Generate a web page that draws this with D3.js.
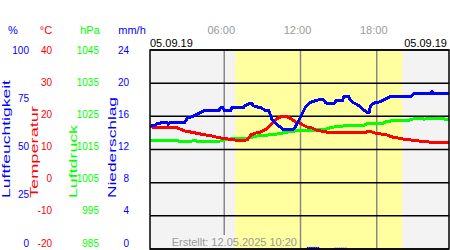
<!DOCTYPE html>
<html>
<head>
<meta charset="utf-8">
<script src="https://cdn.jsdelivr.net/npm/d3@7"></script>
<style>
body { margin: 0; background: #fff; }
text { font-family: "Liberation Sans", Arial, sans-serif; }
</style>
</head>
<body>
<div id="chart"></div>
<script>
const width = 450, height = 250;
const plot = {left: 150, right: 449, top: 50, bottom: 249};

// data
const dateLabel = "05.09.19";
const createdLabel = "Erstellt: 12.05.2025 10:20";
const timeTicks = [6, 12, 18];
const sunrise = 6.85, sunset = 20.02;

const humidityTicks = [0, 25, 50, 75, 100];
const tempTicks = [-20, -10, 0, 10, 20, 30, 40];
const pressureTicks = [985, 995, 1005, 1015, 1025, 1035, 1045];
const rainTicks = [0, 4, 8, 12, 16, 20, 24];

// [hour, %]
const humidity = [[0.2, 62.3], [0.6, 62.3], [0.8, 63.3], [1.0, 63.3], [1.2, 63.8], [1.5, 63.8], [1.6, 62.8],
  [1.75, 63.8], [2.9, 63.8], [3.1, 65.8], [3.6, 66.8], [3.9, 67.8], [4.2, 68.8], [4.5, 69.8], [5.6, 69.8],
  [5.7, 70.9], [5.9, 70.9], [6.0, 69.8], [6.5, 69.8], [6.6, 70.9], [7.5, 70.9], [7.6, 71.9], [7.9, 72.9],
  [8.2, 72.9], [8.3, 71.9], [8.6, 71.4], [8.9, 70.9], [9.2, 69.8], [9.5, 69.8], [9.6, 67.8], [9.75, 65.3],
  [10.0, 63.3], [10.3, 61.8], [10.7, 59.8], [11.4, 59.8], [11.6, 61.3], [11.8, 63.8], [12.0, 66.3],
  [12.2, 68.8], [12.4, 71.4], [12.7, 73.4], [13.1, 74.4], [13.4, 74.9], [13.8, 74.9], [14.0, 73.4],
  [14.3, 72.9], [14.6, 72.9], [14.8, 74.4], [15.3, 74.4], [15.4, 76.4], [15.8, 76.4], [15.9, 74.9],
  [16.2, 73.4], [16.5, 72.4], [16.8, 70.9], [17.0, 69.8], [17.2, 68.8], [17.4, 68.8], [17.5, 71.9],
  [17.8, 73.4], [18.3, 74.0], [18.7, 75.5], [19.1, 76.6], [20.7, 76.6], [20.9, 77.9], [22.2, 77.9],
  [22.35, 78.9], [22.5, 77.9], [23.8, 77.9]];

// [hour, °C]
const temperature = [[0.0, 17.4], [0.3, 16.8], [0.7, 16.5], [2.3, 16.5], [2.5, 16.2], [2.9, 15.6], [3.3, 15.3],
  [3.7, 15.0], [4.1, 14.7], [4.5, 14.4], [5.0, 14.1], [5.3, 13.8], [5.7, 13.5], [6.2, 13.2], [6.8, 12.9],
  [7.3, 12.6], [7.8, 12.9], [8.1, 14.4], [8.5, 15.0], [8.9, 15.3], [9.2, 15.9], [9.5, 16.8], [9.8, 18.0],
  [10.1, 19.2], [10.4, 19.8], [10.7, 20.1], [11.0, 19.8], [11.3, 19.2], [11.6, 18.3], [11.9, 18.0],
  [12.2, 17.4], [12.5, 16.8], [12.9, 16.5], [13.2, 15.9], [13.6, 15.6], [14.0, 15.3], [14.5, 15.0],
  [17.0, 15.0], [17.2, 15.3], [17.6, 15.3], [17.8, 15.0], [18.3, 14.7], [18.8, 14.4], [19.2, 13.8],
  [19.6, 13.5], [20.0, 13.2], [20.6, 12.9], [21.2, 12.6], [22.0, 12.3], [22.8, 12.0], [23.8, 12.0]];

// [hour, hPa]
const pressure = [[0.0, 1017.6], [2.4, 1017.6], [2.5, 1017.3], [3.3, 1017.3], [3.5, 1017.6], [3.8, 1017.6],
  [3.9, 1017.3], [5.2, 1017.3], [5.5, 1017.4], [5.8, 1017.7], [6.3, 1018.1], [6.9, 1018.4], [7.9, 1018.4],
  [8.1, 1018.6], [8.6, 1019.1], [9.5, 1019.4], [10.2, 1019.7], [10.9, 1020.2], [11.6, 1020.6],
  [13.0, 1020.6], [13.2, 1020.9], [13.9, 1020.9], [14.2, 1021.4], [14.8, 1021.9], [15.4, 1022.1],
  [16.9, 1022.1], [17.1, 1022.6], [17.4, 1022.9], [18.5, 1022.9], [18.7, 1023.4], [19.3, 1023.7],
  [20.3, 1023.7], [20.6, 1023.9], [21.0, 1024.4], [21.6, 1024.4], [21.7, 1024.1], [22.0, 1024.4],
  [23.2, 1024.4], [23.4, 1024.1], [23.8, 1024.1]];

// [hour (start of 10 min), mm/h]
const rain = [[12.5, 0.25], [12.667, 0.25], [12.833, 0.25], [13.0, 0.25], [13.167, 0.25], [13.333, 0.25],
  [14.667, 0.15], [14.833, 0.15], [15.0, 0.15], [15.167, 0.15], [15.333, 0.15], [15.5, 0.15]];

const blue = "#0000ff", red = "#ff0000", green = "#00ff00";

const svg = d3.select("#chart").append("svg")
    .attr("width", width)
    .attr("height", height);

const x = d3.scaleLinear().domain([0, 24]).range([148, 453]);
const yHum = d3.scaleLinear().domain([0, 100]).range([plot.bottom, plot.top]);
const yTemp = d3.scaleLinear().domain([-20, 40]).range([plot.bottom, plot.top]);
const yPres = d3.scaleLinear().domain([985, 1045]).range([plot.bottom, plot.top]);
const yRain = d3.scaleLinear().domain([0, 24]).range([plot.bottom, plot.top]);

svg.append("defs").append("clipPath")
    .attr("id", "plotClip")
    .append("rect")
    .attr("x", plot.left).attr("y", plot.top)
    .attr("width", plot.right - plot.left).attr("height", plot.bottom - plot.top);

// day / night background
function drawBackground(g) {
    g.append("rect")
        .attr("x", plot.left).attr("y", plot.top)
        .attr("width", plot.right - plot.left).attr("height", plot.bottom - plot.top)
        .attr("fill", "#f3f3f3");
    g.append("rect")
        .attr("x", x(sunrise)).attr("y", plot.top)
        .attr("width", x(sunset) - x(sunrise)).attr("height", plot.bottom - plot.top)
        .attr("fill", "#ffffa0");
}
drawBackground(svg.append("g"));

// vertical time lines
svg.append("g").selectAll("line")
    .data(timeTicks)
    .enter().append("line")
    .attr("x1", d => x(d)).attr("x2", d => x(d))
    .attr("y1", plot.top).attr("y2", plot.bottom)
    .attr("stroke", "#888")
    .attr("stroke-width", 1.5);

// "Erstellt" label sits on a patch of background that hides the line beneath
const created = svg.append("g");
const createdText = svg.append("text")
    .attr("x", 297).attr("y", 246)
    .attr("text-anchor", "end")
    .attr("font-size", "11px")
    .attr("fill", "#999")
    .text(createdLabel);
const bb = createdText.node().getBBox();
created.append("clipPath").attr("id", "createdClip")
    .append("rect")
    .attr("x", bb.x - 2).attr("y", bb.y - 1)
    .attr("width", bb.width + 2).attr("height", plot.bottom - bb.y + 1);
drawBackground(created.append("g").attr("clip-path", "url(#createdClip)"));
createdText.raise();

// horizontal grid
svg.append("g").selectAll("line")
    .data(tempTicks)
    .enter().append("line")
    .attr("x1", plot.left).attr("x2", plot.right)
    .attr("y1", d => yTemp(d)).attr("y2", d => yTemp(d))
    .attr("stroke", "#000")
    .attr("stroke-width", 1.5);

const marks = svg.append("g").attr("clip-path", "url(#plotClip)");

// precipitation bars
marks.selectAll(".rain")
    .data(rain)
    .enter().append("rect")
    .attr("class", "rain")
    .attr("x", d => x(d[0]))
    .attr("width", d => x(d[0] + 1 / 6) - x(d[0]) - 0.4)
    .attr("y", d => yRain(d[1]))
    .attr("height", d => yRain(0) - yRain(d[1]))
    .attr("fill", blue);

function drawLine(data, yScale, color) {
    marks.append("path")
        .datum(data)
        .attr("d", d3.line().x(d => x(d[0])).y(d => yScale(d[1])))
        .attr("fill", "none")
        .attr("stroke", color)
        .attr("stroke-width", 3)
        .attr("shape-rendering", "crispEdges");
}
drawLine(pressure, yPres, green);
drawLine(temperature, yTemp, red);
drawLine(humidity, yHum, blue);

// border
svg.append("rect")
    .attr("x", plot.left).attr("y", plot.top)
    .attr("width", plot.right - plot.left).attr("height", plot.bottom - plot.top)
    .attr("fill", "none")
    .attr("stroke", "#000")
    .attr("stroke-width", 1.5);

// time labels on top
svg.append("g").selectAll("text")
    .data(timeTicks)
    .enter().append("text")
    .attr("x", d => x(d) - 3)
    .attr("y", 34)
    .attr("text-anchor", "middle")
    .attr("font-size", "11px")
    .attr("fill", "#999")
    .text(d => d3.format("02")(d) + ":00");

svg.append("text")
    .attr("x", plot.left).attr("y", 47)
    .attr("font-size", "11px")
    .text(dateLabel);
svg.append("text")
    .attr("x", 447).attr("y", 47)
    .attr("text-anchor", "end")
    .attr("font-size", "11px")
    .text(dateLabel);

// left scales
const columns = [
    {unit: "%", unitX: 13, right: 29, ticks: humidityTicks, domain: [0, 100], color: blue,
     title: "Luftfeuchtigkeit", titleX: 10, titleLen: 118},
    {unit: "°C", unitX: 46, right: 52, ticks: tempTicks, domain: [-20, 40], color: red,
     title: "Temperatur", titleX: 38, titleLen: 92},
    {unit: "hPa", unitX: 90, right: 99, ticks: pressureTicks, domain: [985, 1045], color: green,
     title: "Luftdruck", titleX: 77, titleLen: 73},
    {unit: "mm/h", unitX: 132, right: 129, ticks: rainTicks, domain: [0, 24], color: blue,
     title: "Niederschlag", titleX: 116, titleLen: 101}
];

columns.forEach(c => {
    const labelY = d3.scaleLinear().domain(c.domain).range([plot.bottom - 6, plot.top]);
    const g = svg.append("g").attr("fill", c.color).attr("font-size", "10px");

    g.append("text")
        .attr("x", c.unitX).attr("y", 34)
        .attr("text-anchor", "middle")
        .attr("font-size", "11px")
        .text(c.unit);

    g.selectAll(".tick")
        .data(c.ticks)
        .enter().append("text")
        .attr("class", "tick")
        .attr("x", c.right)
        .attr("y", d => labelY(d))
        .attr("dy", "0.36em")
        .attr("text-anchor", "end")
        .text(d => d);

    g.append("text")
        .attr("transform", "translate(" + c.titleX + ",198) rotate(-90)")
        .attr("font-size", "11px")
        .attr("textLength", c.titleLen)
        .attr("lengthAdjust", "spacingAndGlyphs")
        .text(c.title);
});
</script>
</body>
</html>
